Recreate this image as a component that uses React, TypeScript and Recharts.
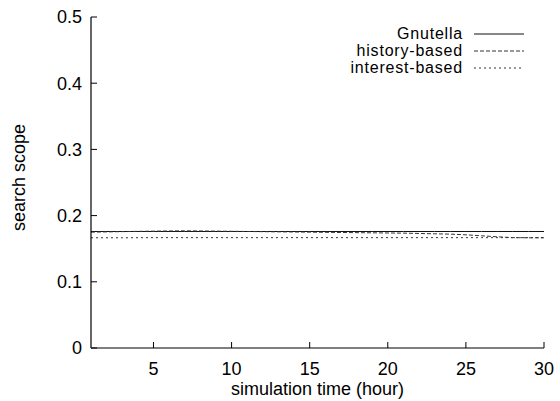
import React from 'react';
import { LineChart, Line, XAxis, YAxis } from 'recharts';

const hours = [1, 3, 5, 7, 9, 11, 13, 15, 17, 19, 21, 23, 24, 25, 26, 27, 28, 29, 30];
const gnutella = [0.176, 0.176, 0.176, 0.176, 0.176, 0.176, 0.176, 0.176, 0.176, 0.176, 0.176, 0.176, 0.176, 0.176, 0.176, 0.176, 0.176, 0.176, 0.176];
const historyBased = [0.175, 0.1758, 0.1765, 0.177, 0.1765, 0.176, 0.1755, 0.175, 0.1745, 0.174, 0.1735, 0.1725, 0.172, 0.171, 0.1695, 0.168, 0.1667, 0.1665, 0.1665];
const interestBased = [0.1665, 0.1665, 0.1667, 0.1667, 0.1667, 0.1667, 0.1667, 0.1667, 0.1667, 0.1667, 0.1667, 0.1667, 0.1667, 0.1667, 0.1667, 0.1667, 0.1667, 0.1667, 0.1667];

const xTicks = [5, 10, 15, 20, 25, 30];
const yTicks = [0, 0.1, 0.2, 0.3, 0.4, 0.5];
const seriesNames = ['Gnutella', 'history-based', 'interest-based'];

const data = hours.map((h, i) => ({
  hour: h,
  g: gnutella[i],
  h: historyBased[i],
  n: interestBased[i],
}));

const FONT = '"Liberation Sans", Arial, Helvetica, sans-serif';
const FS = 18;
const LFS = 16;
const dashes = ['', '4 2', '2 3'];
const strokes = ['#111', '#333', '#333'];

const LegendBox = () => (
  <div style={{ fontFamily: FONT, fontSize: LFS, color: '#000' }}>
    {seriesNames.map((n, i) => (
      <div key={n} style={{ display: 'flex', alignItems: 'center', height: 17 }}>
        <span style={{ width: 180, textAlign: 'right', lineHeight: '17px', letterSpacing: 0.8, whiteSpace: 'nowrap' }}>{n}</span>
        <svg width={62} height={16} style={{ display: 'block' }}>
          <line x1={11} y1={8} x2={61} y2={8} stroke={strokes[i]} strokeWidth={1} strokeDasharray={dashes[i] || undefined} />
        </svg>
      </div>
    ))}
  </div>
);

export default function App() {
  return (
    <div style={{ position: 'absolute', left: 0, top: 0, width: 560, height: 401, fontFamily: FONT, overflow: 'hidden' }}>
      <LineChart width={560} height={401} data={data} margin={{ top: 17, right: 16, bottom: 0, left: 0 }}>
        <XAxis
          xAxisId="b"
          dataKey="hour"
          type="number"
          domain={[1, 30]}
          ticks={xTicks}
          allowDataOverflow
          height={53}
          tickSize={-6}
          tickMargin={20}
          axisLine={{ stroke: '#000', strokeWidth: 1.2 }}
          tickLine={{ stroke: '#000' }}
          tick={{ fill: '#000', fontSize: FS, fontFamily: FONT }}
          label={(props: any) => {
            const vb = props.viewBox;
            return (
              <text x={vb.x + vb.width / 2} y={vb.y + 41} textAnchor="middle" dominantBaseline="central" fontSize={FS} fontFamily={FONT} fill="#000">
                simulation time (hour)
              </text>
            );
          }}
        />
        <XAxis
          xAxisId="t"
          orientation="top"
          type="number"
          domain={[1, 30]}
          ticks={xTicks}
          allowDataOverflow
          height={0}
          tickSize={-6}
          tick={false}
          axisLine={{ stroke: '#000', strokeWidth: 1.2 }}
          tickLine={{ stroke: '#000' }}
        />
        <YAxis
          yAxisId="l"
          type="number"
          domain={[0, 0.5]}
          ticks={yTicks}
          width={91}
          tickSize={-6}
          tickMargin={15}
          axisLine={{ stroke: '#000', strokeWidth: 1.2 }}
          tickLine={{ stroke: '#000' }}
          tick={{ fill: '#000', fontSize: FS, fontFamily: FONT }}
          label={(props: any) => {
            const vb = props.viewBox;
            const cx = vb.x + 19;
            const cy = vb.y + vb.height / 2 - 5;
            return (
              <text x={cx} y={cy} transform={`rotate(-90 ${cx} ${cy})`} textAnchor="middle" dominantBaseline="central" fontSize={FS} fontFamily={FONT} fill="#000">
                search scope
              </text>
            );
          }}
        />
        <YAxis
          yAxisId="r"
          orientation="right"
          type="number"
          domain={[0, 0.5]}
          ticks={yTicks}
          width={0}
          tickSize={-6}
          tick={false}
          axisLine={{ stroke: '#000', strokeWidth: 1.2 }}
          tickLine={{ stroke: '#000' }}
        />
        <Line xAxisId="b" yAxisId="l" dataKey="g" name={seriesNames[0]} stroke={strokes[0]} strokeWidth={1} dot={false} isAnimationActive={false} />
        <Line xAxisId="b" yAxisId="l" dataKey="h" name={seriesNames[1]} stroke={strokes[1]} strokeWidth={1} strokeDasharray={dashes[1]} dot={false} isAnimationActive={false} />
        <Line xAxisId="b" yAxisId="l" dataKey="n" name={seriesNames[2]} stroke={strokes[2]} strokeWidth={1} strokeDasharray={dashes[2]} dot={false} isAnimationActive={false} />
      </LineChart>
      <div style={{ position: 'absolute', left: 283, top: 25 }}>
        <LegendBox />
      </div>
    </div>
  );
}
